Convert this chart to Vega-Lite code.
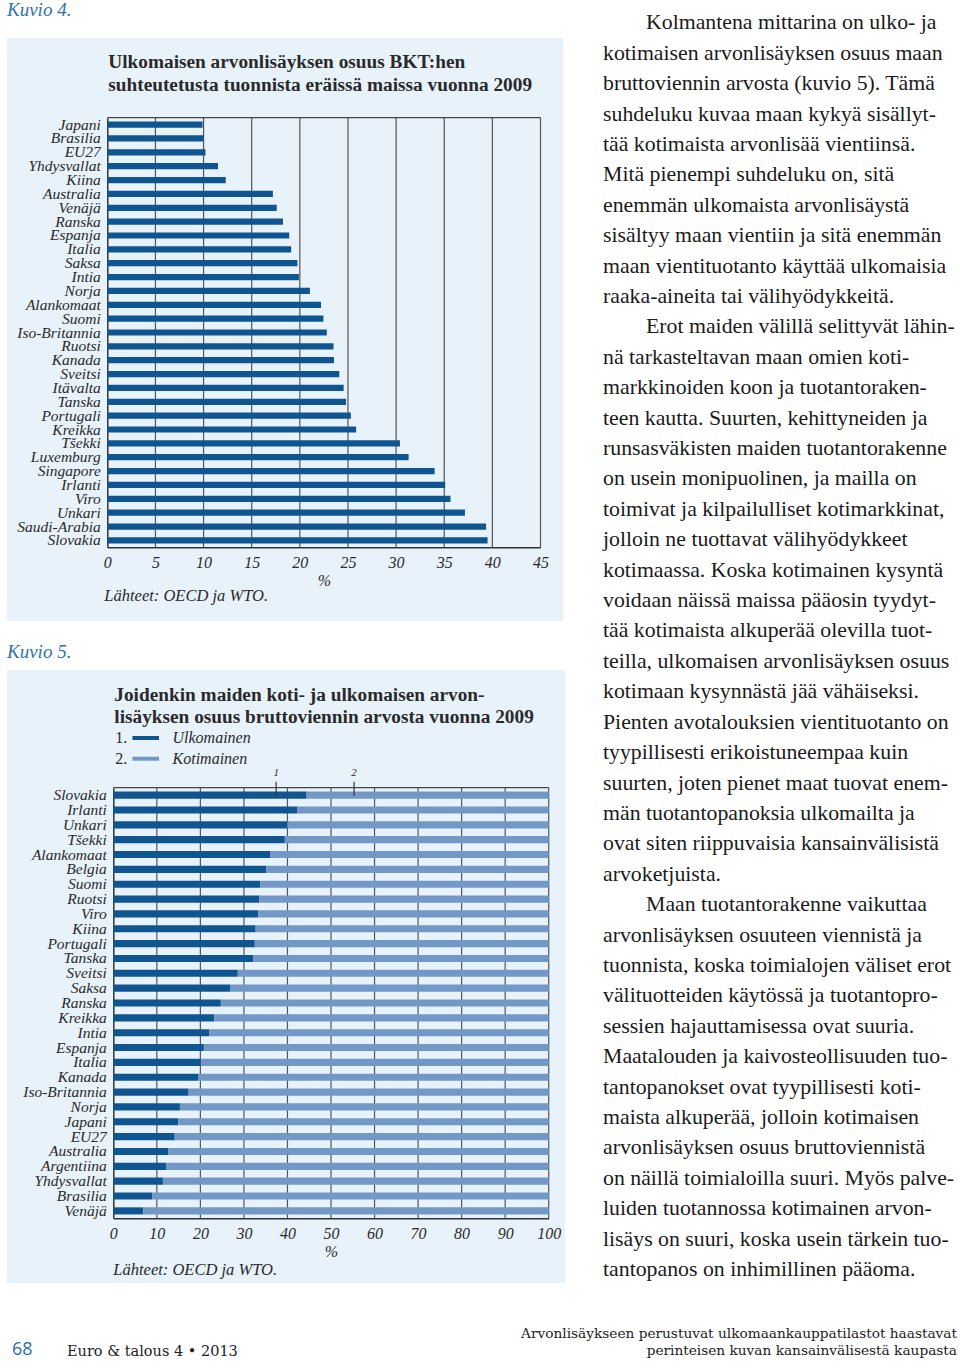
{
  "$schema": "https://vega.github.io/schema/vega-lite/v6.json",
  "padding": {"left": 7, "top": 0, "right": 0, "bottom": 0},
  "background": "white",
  "config": {"view": {"stroke": null}, "font": "Liberation Serif"},
  "spacing": 0,
  "bounds": "full",
  "vconcat": [
    {
      "hconcat": [
        {
          "vconcat": [
            {
              "width": 556, "height": 38,
              "data": {"values": [{"t": "Kuvio 4."}]},
              "mark": {"type": "text", "align": "left", "baseline": "alphabetic", "fontStyle": "italic", "fontSize": 19, "color": "#2f72ad"},
              "encoding": {
                "text": {"field": "t"},
                "x": {"datum": 0, "scale": {"domain": [0, 1], "range": [0, 556]}, "axis": null},
                "y": {"datum": 16, "scale": {"domain": [0, 38], "range": [0, 38]}, "axis": null}
              }
            },
            {
              "width": 556, "height": 583,
              "view": {"fill": "#e8f2fa", "stroke": null},
              "resolve": {"scale": {"x": "independent", "y": "independent", "color": "independent"}, "axis": {"x": "independent", "y": "independent"}},
              "layer": [
                {
                  "data": {"values": [{"v": 5}, {"v": 10}, {"v": 15}, {"v": 20}, {"v": 25}, {"v": 30}, {"v": 35}, {"v": 40}, {"v": 45}]},
                  "mark": {"type": "rule", "color": "#555555", "strokeWidth": 1.2},
                  "encoding": {
                    "x": {"field": "v", "type": "quantitative", "scale": {"domain": [0, 45], "range": [100.3, 533.5]}, "axis": null},
                    "y": {"datum": 0, "scale": {"domain": [0, 1], "range": [79.7, 509.3]}, "axis": null},
                    "y2": {"datum": 1}
                  }
                },
                {
                  "data": {"values": [{}]},
                  "mark": {"type": "rule", "color": "#444444", "strokeWidth": 1.3},
                  "encoding": {
                    "x": {"datum": 0, "scale": {"domain": [0, 45], "range": [100.3, 533.5]}, "axis": null},
                    "x2": {"datum": 45},
                    "y": {"datum": 0, "scale": {"domain": [0, 1], "range": [79.7, 509.3]}, "axis": null}
                  }
                },
                {
                  "data": {"values": [
                    {"maa": "Japani", "arvo": 9.9}, {"maa": "Brasilia", "arvo": 10.0}, {"maa": "EU27", "arvo": 10.2},
                    {"maa": "Yhdysvallat", "arvo": 11.5}, {"maa": "Kiina", "arvo": 12.3}, {"maa": "Australia", "arvo": 17.2},
                    {"maa": "Venäjä", "arvo": 17.6}, {"maa": "Ranska", "arvo": 18.25}, {"maa": "Espanja", "arvo": 18.9},
                    {"maa": "Italia", "arvo": 19.1}, {"maa": "Saksa", "arvo": 19.75}, {"maa": "Intia", "arvo": 19.9},
                    {"maa": "Norja", "arvo": 21.05}, {"maa": "Alankomaat", "arvo": 22.2}, {"maa": "Suomi", "arvo": 22.45},
                    {"maa": "Iso-Britannia", "arvo": 22.8}, {"maa": "Ruotsi", "arvo": 23.5}, {"maa": "Kanada", "arvo": 23.55},
                    {"maa": "Sveitsi", "arvo": 24.1}, {"maa": "Itävalta", "arvo": 24.55}, {"maa": "Tanska", "arvo": 24.8},
                    {"maa": "Portugali", "arvo": 25.3}, {"maa": "Kreikka", "arvo": 25.85}, {"maa": "Tšekki", "arvo": 30.4},
                    {"maa": "Luxemburg", "arvo": 31.3}, {"maa": "Singapore", "arvo": 34.0}, {"maa": "Irlanti", "arvo": 35.1},
                    {"maa": "Viro", "arvo": 35.65}, {"maa": "Unkari", "arvo": 37.15}, {"maa": "Saudi-Arabia", "arvo": 39.35},
                    {"maa": "Slovakia", "arvo": 39.5}
                  ]},
                  "mark": {"type": "bar", "color": "#0f5592"},
                  "encoding": {
                    "y": {"field": "maa", "type": "nominal", "sort": null,
                      "scale": {"range": [79.7, 509.3], "paddingInner": 0.55, "paddingOuter": 0.275},
                      "axis": {"orient": "left", "offset": -100.3, "title": null, "ticks": false, "tickSize": 0, "labelPadding": 7,
                        "labelFont": "Liberation Serif", "labelFontStyle": "italic", "labelFontSize": 15.5, "labelColor": "#2a2a2a",
                        "domainColor": "#333333", "domainWidth": 1.5, "grid": false, "labelLimit": 0}},
                    "x": {"field": "arvo", "type": "quantitative",
                      "scale": {"domain": [0, 45], "range": [100.3, 533.5]},
                      "axis": {"orient": "bottom", "offset": -73.7, "values": [0, 5, 10, 15, 20, 25, 30, 35, 40, 45], "title": "%",
                        "titleFont": "Liberation Serif", "titleFontWeight": "normal", "titleFontStyle": "italic", "titleFontSize": 16, "titleColor": "#2a2a2a", "titlePadding": 2,
                        "ticks": false, "tickSize": 0, "labelPadding": 7, "labelFont": "Liberation Serif", "labelFontStyle": "italic", "labelFontSize": 16,
                        "labelColor": "#2a2a2a", "labelFlush": false, "labelOverlap": false, "domainColor": "#333333", "domainWidth": 1.5, "grid": false}}
                  }
                },
                {
                  "data": {"values": [{"i": 0, "t": "Ulkomaisen arvonlisäyksen osuus BKT:hen"}, {"i": 1, "t": "suhteutetusta tuonnista eräissä maissa vuonna 2009"}]},
                  "mark": {"type": "text", "align": "left", "baseline": "alphabetic", "fontSize": 19.3, "fontWeight": "bold", "color": "#2a2a2a", "dx": 1},
                  "encoding": {
                    "text": {"field": "t"},
                    "x": {"datum": 0, "scale": {"domain": [0, 45], "range": [100.3, 533.5]}, "axis": null},
                    "y": {"field": "i", "type": "quantitative", "scale": {"domain": [0, 1], "range": [29.7, 53]}, "axis": null}
                  }
                },
                {
                  "data": {"values": [{"t": "Lähteet: OECD ja WTO."}]},
                  "mark": {"type": "text", "align": "left", "baseline": "alphabetic", "fontSize": 16.5, "fontStyle": "italic", "color": "#2a2a2a", "dx": -3},
                  "encoding": {
                    "text": {"field": "t"},
                    "x": {"datum": 0, "scale": {"domain": [0, 45], "range": [100.3, 533.5]}, "axis": null},
                    "y": {"datum": 563, "scale": {"domain": [0, 583], "range": [0, 583]}, "axis": null}
                  }
                }
              ]
            },
            {
              "width": 556, "height": 49,
              "data": {"values": [{"t": "Kuvio 5."}]},
              "mark": {"type": "text", "align": "left", "baseline": "alphabetic", "fontStyle": "italic", "fontSize": 19, "color": "#2f72ad"},
              "encoding": {
                "text": {"field": "t"},
                "x": {"datum": 0, "scale": {"domain": [0, 1], "range": [0, 556]}, "axis": null},
                "y": {"datum": 37, "scale": {"domain": [0, 49], "range": [0, 49]}, "axis": null}
              }
            },
            {
              "width": 558, "height": 613,
              "view": {"fill": "#e8f2fa", "stroke": null},
              "resolve": {"scale": {"x": "independent", "y": "independent", "color": "independent"}, "axis": {"x": "independent", "y": "independent"}},
              "layer": [
                {
                  "data": {"values": [{"v": 10}, {"v": 20}, {"v": 30}, {"v": 40}, {"v": 50}, {"v": 60}, {"v": 70}, {"v": 80}, {"v": 90}, {"v": 100}]},
                  "mark": {"type": "rule", "color": "#555555", "strokeWidth": 1.2},
                  "encoding": {
                    "x": {"field": "v", "type": "quantitative", "scale": {"domain": [0, 100], "range": [106.3, 541.7]}, "axis": null},
                    "y": {"datum": 0, "scale": {"domain": [0, 1], "range": [117.7, 548.3]}, "axis": null},
                    "y2": {"datum": 1}
                  }
                },
                {
                  "data": {"values": [{}]},
                  "mark": {"type": "rule", "color": "#444444", "strokeWidth": 1.3},
                  "encoding": {
                    "x": {"datum": 0, "scale": {"domain": [0, 100], "range": [106.3, 541.7]}, "axis": null},
                    "x2": {"datum": 100},
                    "y": {"datum": 0, "scale": {"domain": [0, 1], "range": [117.7, 548.3]}, "axis": null}
                  }
                },
                {
                  "data": {"values": [
                    {"maa": "Slovakia", "osa": "Ulkomainen", "n": 1, "arvo": 44.4}, {"maa": "Slovakia", "osa": "Kotimainen", "n": 2, "arvo": 55.6},
                    {"maa": "Irlanti", "osa": "Ulkomainen", "n": 1, "arvo": 42.3}, {"maa": "Irlanti", "osa": "Kotimainen", "n": 2, "arvo": 57.7},
                    {"maa": "Unkari", "osa": "Ulkomainen", "n": 1, "arvo": 40.0}, {"maa": "Unkari", "osa": "Kotimainen", "n": 2, "arvo": 60.0},
                    {"maa": "Tšekki", "osa": "Ulkomainen", "n": 1, "arvo": 39.4}, {"maa": "Tšekki", "osa": "Kotimainen", "n": 2, "arvo": 60.6},
                    {"maa": "Alankomaat", "osa": "Ulkomainen", "n": 1, "arvo": 36.0}, {"maa": "Alankomaat", "osa": "Kotimainen", "n": 2, "arvo": 64.0},
                    {"maa": "Belgia", "osa": "Ulkomainen", "n": 1, "arvo": 35.1}, {"maa": "Belgia", "osa": "Kotimainen", "n": 2, "arvo": 64.9},
                    {"maa": "Suomi", "osa": "Ulkomainen", "n": 1, "arvo": 33.8}, {"maa": "Suomi", "osa": "Kotimainen", "n": 2, "arvo": 66.2},
                    {"maa": "Ruotsi", "osa": "Ulkomainen", "n": 1, "arvo": 33.5}, {"maa": "Ruotsi", "osa": "Kotimainen", "n": 2, "arvo": 66.5},
                    {"maa": "Viro", "osa": "Ulkomainen", "n": 1, "arvo": 33.3}, {"maa": "Viro", "osa": "Kotimainen", "n": 2, "arvo": 66.7},
                    {"maa": "Kiina", "osa": "Ulkomainen", "n": 1, "arvo": 32.7}, {"maa": "Kiina", "osa": "Kotimainen", "n": 2, "arvo": 67.3},
                    {"maa": "Portugali", "osa": "Ulkomainen", "n": 1, "arvo": 32.5}, {"maa": "Portugali", "osa": "Kotimainen", "n": 2, "arvo": 67.5},
                    {"maa": "Tanska", "osa": "Ulkomainen", "n": 1, "arvo": 32.1}, {"maa": "Tanska", "osa": "Kotimainen", "n": 2, "arvo": 67.9},
                    {"maa": "Sveitsi", "osa": "Ulkomainen", "n": 1, "arvo": 28.6}, {"maa": "Sveitsi", "osa": "Kotimainen", "n": 2, "arvo": 71.4},
                    {"maa": "Saksa", "osa": "Ulkomainen", "n": 1, "arvo": 26.8}, {"maa": "Saksa", "osa": "Kotimainen", "n": 2, "arvo": 73.2},
                    {"maa": "Ranska", "osa": "Ulkomainen", "n": 1, "arvo": 24.7}, {"maa": "Ranska", "osa": "Kotimainen", "n": 2, "arvo": 75.3},
                    {"maa": "Kreikka", "osa": "Ulkomainen", "n": 1, "arvo": 23.2}, {"maa": "Kreikka", "osa": "Kotimainen", "n": 2, "arvo": 76.8},
                    {"maa": "Intia", "osa": "Ulkomainen", "n": 1, "arvo": 22.0}, {"maa": "Intia", "osa": "Kotimainen", "n": 2, "arvo": 78.0},
                    {"maa": "Espanja", "osa": "Ulkomainen", "n": 1, "arvo": 20.8}, {"maa": "Espanja", "osa": "Kotimainen", "n": 2, "arvo": 79.2},
                    {"maa": "Italia", "osa": "Ulkomainen", "n": 1, "arvo": 20.1}, {"maa": "Italia", "osa": "Kotimainen", "n": 2, "arvo": 79.9},
                    {"maa": "Kanada", "osa": "Ulkomainen", "n": 1, "arvo": 19.6}, {"maa": "Kanada", "osa": "Kotimainen", "n": 2, "arvo": 80.4},
                    {"maa": "Iso-Britannia", "osa": "Ulkomainen", "n": 1, "arvo": 17.3}, {"maa": "Iso-Britannia", "osa": "Kotimainen", "n": 2, "arvo": 82.7},
                    {"maa": "Norja", "osa": "Ulkomainen", "n": 1, "arvo": 15.3}, {"maa": "Norja", "osa": "Kotimainen", "n": 2, "arvo": 84.7},
                    {"maa": "Japani", "osa": "Ulkomainen", "n": 1, "arvo": 14.9}, {"maa": "Japani", "osa": "Kotimainen", "n": 2, "arvo": 85.1},
                    {"maa": "EU27", "osa": "Ulkomainen", "n": 1, "arvo": 14.1}, {"maa": "EU27", "osa": "Kotimainen", "n": 2, "arvo": 85.9},
                    {"maa": "Australia", "osa": "Ulkomainen", "n": 1, "arvo": 12.6}, {"maa": "Australia", "osa": "Kotimainen", "n": 2, "arvo": 87.4},
                    {"maa": "Argentiina", "osa": "Ulkomainen", "n": 1, "arvo": 12.1}, {"maa": "Argentiina", "osa": "Kotimainen", "n": 2, "arvo": 87.9},
                    {"maa": "Yhdysvallat", "osa": "Ulkomainen", "n": 1, "arvo": 11.4}, {"maa": "Yhdysvallat", "osa": "Kotimainen", "n": 2, "arvo": 88.6},
                    {"maa": "Brasilia", "osa": "Ulkomainen", "n": 1, "arvo": 9.0}, {"maa": "Brasilia", "osa": "Kotimainen", "n": 2, "arvo": 91.0},
                    {"maa": "Venäjä", "osa": "Ulkomainen", "n": 1, "arvo": 6.9}, {"maa": "Venäjä", "osa": "Kotimainen", "n": 2, "arvo": 93.1}
                  ]},
                  "mark": {"type": "bar"},
                  "encoding": {
                    "y": {"field": "maa", "type": "nominal", "sort": null,
                      "scale": {"range": [117.7, 548.3], "paddingInner": 0.52, "paddingOuter": 0.26},
                      "axis": {"orient": "left", "offset": -106.3, "title": null, "ticks": false, "tickSize": 0, "labelPadding": 7,
                        "labelFont": "Liberation Serif", "labelFontStyle": "italic", "labelFontSize": 15.5, "labelColor": "#2a2a2a",
                        "domainColor": "#333333", "domainWidth": 1.5, "grid": false, "labelLimit": 0}},
                    "x": {"field": "arvo", "type": "quantitative", "stack": "zero",
                      "scale": {"domain": [0, 100], "range": [106.3, 541.7]},
                      "axis": {"orient": "bottom", "offset": -64.7, "values": [0, 10, 20, 30, 40, 50, 60, 70, 80, 90, 100], "title": "%",
                        "titleFont": "Liberation Serif", "titleFontWeight": "normal", "titleFontStyle": "italic", "titleFontSize": 16, "titleColor": "#2a2a2a", "titlePadding": 2,
                        "ticks": false, "tickSize": 0, "labelPadding": 7, "labelFont": "Liberation Serif", "labelFontStyle": "italic", "labelFontSize": 16,
                        "labelColor": "#2a2a2a", "labelFlush": false, "labelOverlap": false, "domainColor": "#333333", "domainWidth": 1.5, "grid": false}},
                    "color": {"field": "osa", "type": "nominal", "scale": {"domain": ["Ulkomainen", "Kotimainen"], "range": ["#0f5592", "#7298c7"]}, "legend": null},
                    "order": {"field": "n", "type": "quantitative"}
                  }
                },
                {
                  "data": {"values": [{"n": "1", "v": 37.4}, {"n": "2", "v": 55.3}]},
                  "mark": {"type": "rule", "color": "#333333", "strokeWidth": 1.2},
                  "encoding": {
                    "x": {"field": "v", "type": "quantitative", "scale": {"domain": [0, 100], "range": [106.3, 541.7]}, "axis": null},
                    "y": {"datum": 111.7, "scale": {"domain": [0, 613], "range": [0, 613]}, "axis": null},
                    "y2": {"datum": 126}
                  }
                },
                {
                  "data": {"values": [{"n": "1", "v": 37.4}, {"n": "2", "v": 55.3}]},
                  "mark": {"type": "text", "fontSize": 11, "fontStyle": "italic", "color": "#333333", "baseline": "middle", "align": "center"},
                  "encoding": {
                    "text": {"field": "n"},
                    "x": {"field": "v", "type": "quantitative", "scale": {"domain": [0, 100], "range": [106.3, 541.7]}, "axis": null},
                    "y": {"datum": 102.7, "scale": {"domain": [0, 613], "range": [0, 613]}, "axis": null}
                  }
                },
                {
                  "data": {"values": [{"i": 0, "t": "Joidenkin maiden koti- ja ulkomaisen arvon-"}, {"i": 1, "t": "lisäyksen osuus bruttoviennin arvosta vuonna 2009"}]},
                  "mark": {"type": "text", "align": "left", "baseline": "alphabetic", "fontSize": 19.3, "fontWeight": "bold", "color": "#2a2a2a", "dx": 1},
                  "encoding": {
                    "text": {"field": "t"},
                    "x": {"datum": 0, "scale": {"domain": [0, 100], "range": [106.3, 541.7]}, "axis": null},
                    "y": {"field": "i", "type": "quantitative", "scale": {"domain": [0, 1], "range": [31, 53.3]}, "axis": null}
                  }
                },
                {
                  "data": {"values": [{"n": "1.", "k": "Ulkomainen"}, {"n": "2.", "k": "Kotimainen"}]},
                  "mark": {"type": "text", "align": "left", "baseline": "middle", "fontSize": 16, "color": "#2a2a2a", "dx": 2},
                  "encoding": {
                    "text": {"field": "n"},
                    "x": {"datum": 0, "scale": {"domain": [0, 100], "range": [106.3, 541.7]}, "axis": null},
                    "y": {"field": "k", "type": "nominal", "sort": null, "scale": {"type": "point", "domain": ["Ulkomainen", "Kotimainen"], "range": [67.5, 88.5], "padding": 0}, "axis": null}
                  }
                },
                {
                  "data": {"values": [{"n": "1.", "k": "Ulkomainen"}, {"n": "2.", "k": "Kotimainen"}]},
                  "mark": {"type": "rule", "strokeWidth": 4},
                  "encoding": {
                    "x": {"datum": 4.4, "scale": {"domain": [0, 100], "range": [106.3, 541.7]}, "axis": null},
                    "x2": {"datum": 10.5},
                    "y": {"field": "k", "type": "nominal", "sort": null, "scale": {"type": "point", "domain": ["Ulkomainen", "Kotimainen"], "range": [68, 88.7], "padding": 0}, "axis": null},
                    "color": {"field": "k", "type": "nominal", "scale": {"domain": ["Ulkomainen", "Kotimainen"], "range": ["#0f5592", "#7298c7"]}, "legend": null}
                  }
                },
                {
                  "data": {"values": [{"n": "1.", "k": "Ulkomainen"}, {"n": "2.", "k": "Kotimainen"}]},
                  "mark": {"type": "text", "align": "left", "baseline": "middle", "fontSize": 16, "fontStyle": "italic", "color": "#2a2a2a"},
                  "encoding": {
                    "text": {"field": "k"},
                    "x": {"datum": 13.6, "scale": {"domain": [0, 100], "range": [106.3, 541.7]}, "axis": null},
                    "y": {"field": "k", "type": "nominal", "sort": null, "scale": {"type": "point", "domain": ["Ulkomainen", "Kotimainen"], "range": [67.5, 88.5], "padding": 0}, "axis": null}
                  }
                },
                {
                  "data": {"values": [{"t": "Lähteet: OECD ja WTO."}]},
                  "mark": {"type": "text", "align": "left", "baseline": "alphabetic", "fontSize": 16.5, "fontStyle": "italic", "color": "#2a2a2a"},
                  "encoding": {
                    "text": {"field": "t"},
                    "x": {"datum": 0, "scale": {"domain": [0, 100], "range": [106.3, 541.7]}, "axis": null},
                    "y": {"datum": 605, "scale": {"domain": [0, 613], "range": [0, 613]}, "axis": null}
                  }
                }
              ]
            }
          ],
          "spacing": 0,
          "bounds": "flush"
        },
        {
          "width": 357, "height": 1300,
          "data": {"values": [
            {"n": 1, "kpl": 1, "t": "Kolmantena mittarina on ulko- ja"},
            {"n": 2, "kpl": 0, "t": "kotimaisen arvonlisäyksen osuus maan"},
            {"n": 3, "kpl": 0, "t": "bruttoviennin arvosta (kuvio 5). Tämä"},
            {"n": 4, "kpl": 0, "t": "suhdeluku kuvaa maan kykyä sisällyt-"},
            {"n": 5, "kpl": 0, "t": "tää kotimaista arvonlisää vientiinsä."},
            {"n": 6, "kpl": 0, "t": "Mitä pienempi suhdeluku on, sitä"},
            {"n": 7, "kpl": 0, "t": "enemmän ulkomaista arvonlisäystä"},
            {"n": 8, "kpl": 0, "t": "sisältyy maan vientiin ja sitä enemmän"},
            {"n": 9, "kpl": 0, "t": "maan vientituotanto käyttää ulkomaisia"},
            {"n": 10, "kpl": 0, "t": "raaka-aineita tai välihyödykkeitä."},
            {"n": 11, "kpl": 1, "t": "Erot maiden välillä selittyvät lähin-"},
            {"n": 12, "kpl": 0, "t": "nä tarkasteltavan maan omien koti-"},
            {"n": 13, "kpl": 0, "t": "markkinoiden koon ja tuotantoraken-"},
            {"n": 14, "kpl": 0, "t": "teen kautta. Suurten, kehittyneiden ja"},
            {"n": 15, "kpl": 0, "t": "runsasväkisten maiden tuotantorakenne"},
            {"n": 16, "kpl": 0, "t": "on usein monipuolinen, ja mailla on"},
            {"n": 17, "kpl": 0, "t": "toimivat ja kilpailulliset kotimarkkinat,"},
            {"n": 18, "kpl": 0, "t": "jolloin ne tuottavat välihyödykkeet"},
            {"n": 19, "kpl": 0, "t": "kotimaassa. Koska kotimainen kysyntä"},
            {"n": 20, "kpl": 0, "t": "voidaan näissä maissa pääosin tyydyt-"},
            {"n": 21, "kpl": 0, "t": "tää kotimaista alkuperää olevilla tuot-"},
            {"n": 22, "kpl": 0, "t": "teilla, ulkomaisen arvonlisäyksen osuus"},
            {"n": 23, "kpl": 0, "t": "kotimaan kysynnästä jää vähäiseksi."},
            {"n": 24, "kpl": 0, "t": "Pienten avotalouksien vientituotanto on"},
            {"n": 25, "kpl": 0, "t": "tyypillisesti erikoistuneempaa kuin"},
            {"n": 26, "kpl": 0, "t": "suurten, joten pienet maat tuovat enem-"},
            {"n": 27, "kpl": 0, "t": "män tuotantopanoksia ulkomailta ja"},
            {"n": 28, "kpl": 0, "t": "ovat siten riippuvaisia kansainvälisistä"},
            {"n": 29, "kpl": 0, "t": "arvoketjuista."},
            {"n": 30, "kpl": 1, "t": "Maan tuotantorakenne vaikuttaa"},
            {"n": 31, "kpl": 0, "t": "arvonlisäyksen osuuteen viennistä ja"},
            {"n": 32, "kpl": 0, "t": "tuonnista, koska toimialojen väliset erot"},
            {"n": 33, "kpl": 0, "t": "välituotteiden käytössä ja tuotantopro-"},
            {"n": 34, "kpl": 0, "t": "sessien hajauttamisessa ovat suuria."},
            {"n": 35, "kpl": 0, "t": "Maatalouden ja kaivosteollisuuden tuo-"},
            {"n": 36, "kpl": 0, "t": "tantopanokset ovat tyypillisesti koti-"},
            {"n": 37, "kpl": 0, "t": "maista alkuperää, jolloin kotimaisen"},
            {"n": 38, "kpl": 0, "t": "arvonlisäyksen osuus bruttoviennistä"},
            {"n": 39, "kpl": 0, "t": "on näillä toimialoilla suuri. Myös palve-"},
            {"n": 40, "kpl": 0, "t": "luiden tuotannossa kotimainen arvon-"},
            {"n": 41, "kpl": 0, "t": "lisäys on suuri, koska usein tärkein tuo-"},
            {"n": 42, "kpl": 0, "t": "tantopanos on inhimillinen pääoma."}
          ]},
          "layer": [
            {
              "transform": [{"filter": "datum.kpl == 0"}],
              "mark": {"type": "text", "align": "left", "baseline": "alphabetic", "fontSize": 21.8, "color": "#1a1a1a"},
              "encoding": {
                "text": {"field": "t"},
                "x": {"datum": 0, "scale": {"domain": [0, 1], "range": [0, 357]}, "axis": null},
                "y": {"field": "n", "type": "quantitative", "scale": {"domain": [1, 42], "range": [29.3, 1276.1]}, "axis": null}
              }
            },
            {
              "transform": [{"filter": "datum.kpl == 1"}],
              "mark": {"type": "text", "align": "left", "baseline": "alphabetic", "fontSize": 21.8, "color": "#1a1a1a", "dx": 43},
              "encoding": {
                "text": {"field": "t"},
                "x": {"datum": 0, "scale": {"domain": [0, 1], "range": [0, 357]}, "axis": null},
                "y": {"field": "n", "type": "quantitative", "scale": {"domain": [1, 42], "range": [29.3, 1276.1]}, "axis": null}
              }
            }
          ]
        }
      ],
      "spacing": 38,
      "bounds": "full"
    },
    {
      "width": 953, "height": 69,
      "layer": [
        {
          "data": {"values": [{"t": "68"}]},
          "mark": {"type": "text", "align": "left", "baseline": "alphabetic", "font": "Open Sans", "fontSize": 18, "color": "#1f6fa8"},
          "encoding": {
            "text": {"field": "t"},
            "x": {"datum": 5, "scale": {"domain": [0, 953], "range": [0, 953]}, "axis": null},
            "y": {"datum": 55, "scale": {"domain": [0, 69], "range": [0, 69]}, "axis": null}
          }
        },
        {
          "data": {"values": [{"t": "Euro & talous 4 • 2013"}]},
          "mark": {"type": "text", "align": "left", "baseline": "alphabetic", "font": "DejaVu Serif", "fontSize": 14.5, "color": "#222222"},
          "encoding": {
            "text": {"field": "t"},
            "x": {"datum": 60, "scale": {"domain": [0, 953], "range": [0, 953]}, "axis": null},
            "y": {"datum": 56, "scale": {"domain": [0, 69], "range": [0, 69]}, "axis": null}
          }
        },
        {
          "data": {"values": [{"i": 0, "t": "Arvonlisäykseen perustuvat ulkomaankauppatilastot haastavat"}, {"i": 1, "t": "perinteisen kuvan kansainvälisestä kaupasta"}]},
          "mark": {"type": "text", "align": "right", "baseline": "alphabetic", "font": "DejaVu Serif", "fontSize": 13.7, "color": "#222222"},
          "encoding": {
            "text": {"field": "t"},
            "x": {"datum": 950, "scale": {"domain": [0, 953], "range": [0, 953]}, "axis": null},
            "y": {"field": "i", "type": "quantitative", "scale": {"domain": [0, 1], "range": [37.5, 54.5]}, "axis": null}
          }
        }
      ],
      "resolve": {"scale": {"x": "independent", "y": "independent"}}
    }
  ]
}
